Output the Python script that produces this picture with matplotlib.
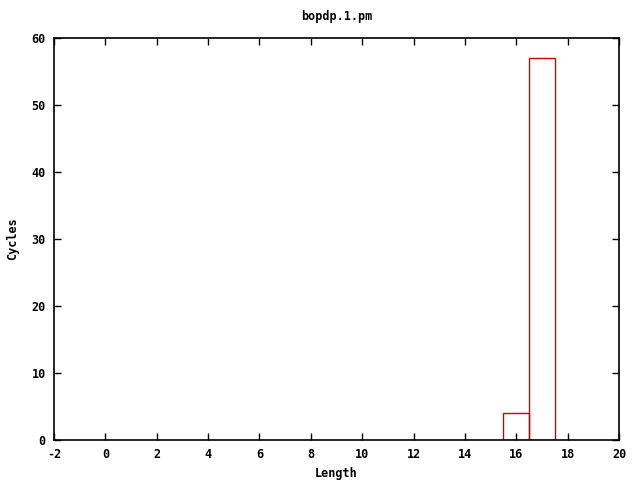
import matplotlib
matplotlib.use("Agg")
import matplotlib.pyplot as plt

# histogram of cycle lengths
lengths = [16, 17]
cycles = [4, 57]

plt.rcParams["font.family"] = "DejaVu Sans Mono"
plt.rcParams["font.weight"] = "bold"
plt.rcParams["font.size"] = 8.5
plt.rcParams["axes.unicode_minus"] = False

fig = plt.figure(figsize=(6.4, 4.8), dpi=100)
ax = fig.add_axes([0.0844, 0.0833, 0.8828, 0.8375])

ax.bar(lengths, cycles, width=1.0, fill=False, edgecolor="#cc0000", linewidth=1.0)

ax.set_xlim(-2, 20)
ax.set_ylim(0, 60)
ax.set_xticks(range(-2, 21, 2))
ax.set_yticks(range(0, 61, 10))
ax.tick_params(direction="in", top=True, right=True, length=5, width=1, pad=6)
for s in ax.spines.values():
    s.set_linewidth(1.2)

ax.set_xlabel("Length", fontweight="bold")
ax.set_ylabel("Cycles", fontweight="bold", labelpad=9)
ax.set_title("bopdp.1.pm", fontweight="bold", fontsize=8.5, pad=13)

fig.savefig("out.png", dpi=100)
